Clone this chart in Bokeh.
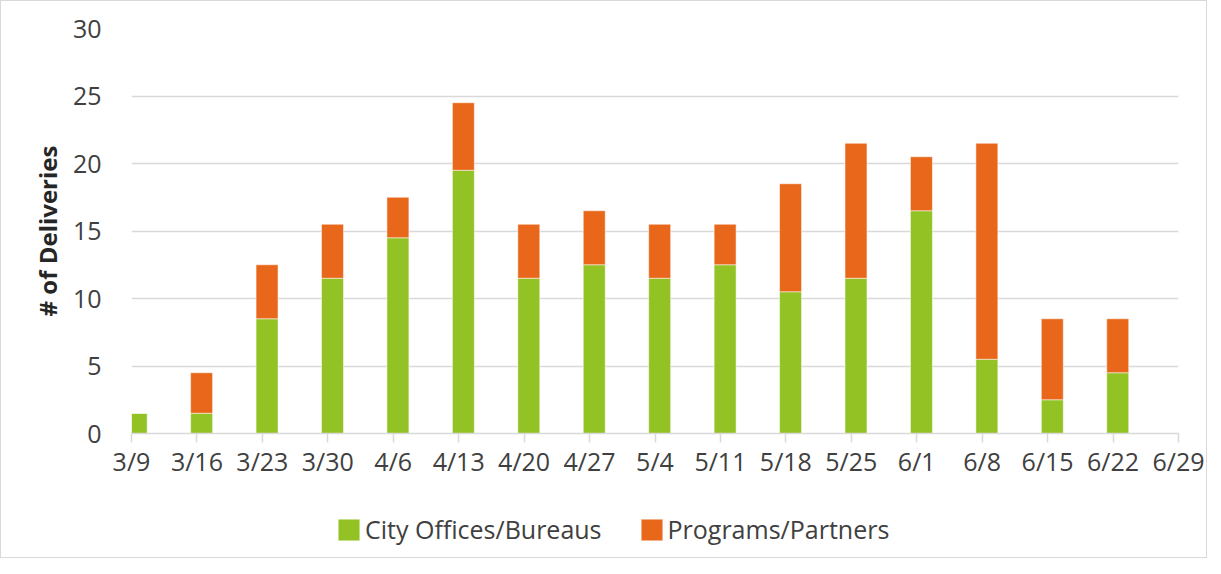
import pandas as pd
from bokeh.plotting import figure
from bokeh.layouts import column
from bokeh.models import ColumnDataSource, FixedTicker, Legend, LegendItem, Range1d
from bokeh.embed import file_html
from bokeh.resources import INLINE

# ---- data ----
week_labels = ["3/9", "3/16", "3/23", "3/30", "4/6", "4/13", "4/20", "4/27",
               "5/4", "5/11", "5/18", "5/25", "6/1", "6/8", "6/15", "6/22", "6/29"]
bar_weeks = ["3/9", "3/16", "3/23", "3/30", "4/6", "4/13", "4/20", "4/27",
             "5/4", "5/11", "5/18", "5/25", "6/1", "6/8", "6/15", "6/22"]
city_offices = [1.5, 1.5, 8.5, 11.5, 14.5, 19.5, 11.5, 12.5,
                11.5, 12.5, 10.5, 11.5, 16.5, 5.5, 2.5, 4.5]
programs_partners = [0, 3, 4, 4, 3, 5, 4, 4,
                     4, 3, 8, 10, 4, 16, 6, 4]
series_names = ["City Offices/Bureaus", "Programs/Partners"]
y_ticks = [0, 5, 10, 15, 20, 25, 30]

GREEN = "#92c224"
ORANGE = "#e8671b"
TEXT = "#404040"
GRID = "#d9d9d9"
FONT = "Open Sans"

start = pd.Timestamp("2020-03-09")
def day_of(lbl):
    return (pd.Timestamp("2020/" + lbl) - start).days

tick_days = [day_of(w) for w in week_labels]
bar_days = [day_of(w) + 0.5 for w in bar_weeks]

src = ColumnDataSource(dict(x=bar_days, city=city_offices, prog=programs_partners))

p = figure(width=1205, height=500, output_backend="svg", toolbar_location=None,
           x_range=Range1d(tick_days[0], tick_days[-1]), y_range=Range1d(0, 30),
           min_border_left=130, min_border_right=28, min_border_top=27,
           min_border_bottom=68)
p.outline_line_color = None
p.background_fill_color = "white"
p.border_fill_color = "white"

rs = p.vbar_stack(["city", "prog"], x="x", width=2.35, source=src,
                  color=[GREEN, ORANGE], line_color="white", line_alpha=0.5,
                  line_width=1)

# axes
xa = p.xaxis[0]
xa.ticker = FixedTicker(ticks=tick_days)
xa.major_label_overrides = {d: l for d, l in zip(tick_days, week_labels)}
xa.axis_line_color = GRID
xa.axis_line_width = 1.5
xa.major_tick_line_color = GRID
xa.major_tick_line_width = 1.5
xa.major_tick_in = 0
xa.major_tick_out = 9
xa.minor_tick_line_color = None
xa.major_label_standoff = 1
xa.major_label_text_font = FONT
xa.major_label_text_font_size = "25px"
xa.major_label_text_color = TEXT

ya = p.yaxis[0]
ya.ticker = FixedTicker(ticks=y_ticks)
ya.axis_line_color = None
ya.major_tick_line_color = None
ya.minor_tick_line_color = None
ya.major_label_standoff = 24
ya.major_label_text_font = FONT
ya.major_label_text_font_size = "25px"
ya.major_label_text_color = TEXT
ya.axis_label = "# of Deliveries"
ya.axis_label_text_font = FONT
ya.axis_label_text_font_size = "24px"
ya.axis_label_text_font_style = "bold"
ya.axis_label_text_color = "#262626"
ya.axis_label_standoff = 6

p.xgrid.grid_line_color = None
p.ygrid.grid_line_color = GRID
p.ygrid.grid_line_width = 1.5

# ---- legend strip (swatch renderers sit outside the visible range) ----
leg_src = ColumnDataSource(dict(x=[-10], top=[0]))
p2 = figure(width=1205, height=56, output_backend="svg", toolbar_location=None,
            x_axis_type=None, y_axis_type=None, x_range=Range1d(0, 1),
            y_range=Range1d(0, 1), min_border=0)
p2.outline_line_color = None
p2.xgrid.grid_line_color = None
p2.ygrid.grid_line_color = None
p2.background_fill_color = "white"
p2.border_fill_color = "white"
lr1 = p2.vbar(x="x", top="top", width=1, source=leg_src, fill_color=GREEN,
              line_color="white", line_alpha=0.5)
lr2 = p2.vbar(x="x", top="top", width=1, source=leg_src, fill_color=ORANGE,
              line_color="white", line_alpha=0.5)

legend = Legend(items=[LegendItem(label=series_names[0], renderers=[lr1]),
                       LegendItem(label=series_names[1], renderers=[lr2])],
                orientation="horizontal", location=(204, 11),
                glyph_width=27, glyph_height=27, label_standoff=3, spacing=36,
                padding=0, margin=0, border_line_color=None,
                background_fill_alpha=0,
                label_text_font=FONT, label_text_font_size="25px",
                label_text_color=TEXT)
p2.add_layout(legend, "center")

layout = column(p, p2, spacing=0)
layout.styles = {"border": "1px solid #d9d9d9"}

open("out.html", "w").write(file_html(layout, INLINE))
